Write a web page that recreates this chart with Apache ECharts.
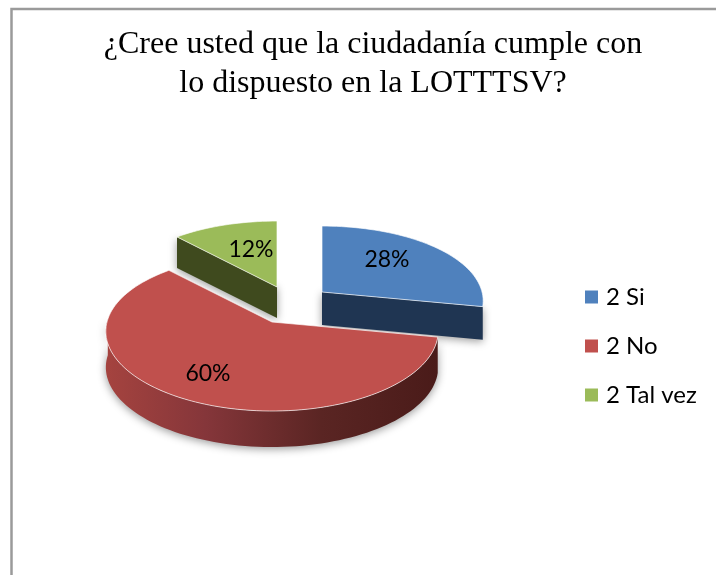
<!DOCTYPE html>
<html>
<head>
<meta charset="utf-8">
<title>LOTTTSV</title>
<script src="https://cdn.jsdelivr.net/npm/echarts@6/dist/echarts.min.js"></script>
<style>
    html, body { margin: 0; padding: 0; background: #fff; }
    #chart { width: 716px; height: 575px; }
</style>
</head>
<body>
<div id="chart"></div>
<script>
// ---- datos ----
const categories = ['2 Si', '2 No', '2 Tal vez'];
const values = [28, 60, 12];
const chartTitle = '¿Cree usted que la ciudadanía cumple con\nlo dispuesto en la LOTTTSV?';

// ---- colores ----
const topColors = ['#4f81bd', '#c0504d', '#9bbb59'];
const sideColors = ['#1f3552', '#4a1b19', '#3f4a1e'];

// ---- geometria del pastel (centro, radios, perspectiva) ----
const PIE = { cx: 272, cy: 322, a: 165, b: 78.5, persp: 0.12, tilt: 0.134, depth: 36 };
// separacion de cada porcion, escala y posicion de la etiqueta
const sliceLayout = [
    { dx: 50, dy: -30, scale: 0.97, depth: 33, labelX: 65, labelY: -32 },
    { dx: 0, dy: 0, scale: 1, depth: 36, labelX: -64, labelY: 52 },
    { dx: 5, dy: -35, scale: 0.97, depth: 31, labelX: -26, labelY: -37 },
];

function project(deg, lay) {
    const rad = deg * Math.PI / 180;
    const u = Math.sin(rad);
    const v = -Math.cos(rad);
    return [
        PIE.cx + lay.dx + lay.scale * PIE.a * u * (1 + PIE.persp * v),
        PIE.cy + lay.dy + lay.scale * PIE.b * v * (1 + PIE.tilt * v),
    ];
}

function arcPoints(from, to, lay) {
    const pts = [];
    const n = Math.max(2, Math.ceil((to - from) / 2));
    for (let i = 0; i <= n; i++) pts.push(project(from + (to - from) * i / n, lay));
    return pts;
}

function sliceRange(i) {
    const total = values.reduce((s, v) => s + v, 0);
    const before = values.slice(0, i).reduce((s, v) => s + v, 0);
    return [before / total * 360, (before + values[i]) / total * 360];
}

const shadow = { shadowBlur: 9, shadowColor: 'rgba(0,0,0,0.4)', shadowOffsetY: 2 };

function renderSlice(i, api) {
    const lay = sliceLayout[i];
    const [start, end] = sliceRange(i);
    const apex = [PIE.cx + lay.dx, PIE.cy + lay.dy];
    const children = [];
    const down = p => [p[0], p[1] + lay.depth];

    // borde exterior visible (mitad delantera)
    const rimFrom = Math.max(start, 90);
    const rimTo = Math.min(end, 272);
    if (rimTo > rimFrom && i === 1) {
        // la porcion roja da la vuelta por delante, de la derecha a la izquierda
        const rim = arcPoints(rimFrom, rimTo, lay);
        children.push({
            type: 'polygon',
            shape: { points: rim.concat(rim.slice().reverse().map(down)) },
            style: Object.assign({
                fill: new echarts.graphic.LinearGradient(0, 0, 1, 0, [
                    { offset: 0, color: '#a5433f' },
                    { offset: 0.3, color: '#85363a' },
                    { offset: 0.65, color: '#5a2523' },
                    { offset: 1, color: sideColors[i] },
                ]),
            }, shadow),
        });
    }
    // caras de corte que miran al frente
    const faces = [];
    if (start > 180 && start < 360) faces.push(project(start, lay));
    if (end > 0 && end < 180) faces.push(project(end, lay));
    faces.forEach(p => {
        children.push({
            type: 'polygon',
            shape: { points: [apex, p, down(p), down(apex)] },
            style: Object.assign({ fill: sideColors[i] }, shadow),
        });
    });
    // cara superior
    children.push({
        type: 'polygon',
        shape: { points: [apex].concat(arcPoints(start, end, lay)) },
        style: { fill: topColors[i], stroke: 'rgba(255,255,255,0.65)', lineWidth: 1 },
    });
    // etiqueta
    children.push({
        type: 'text',
        style: {
            x: apex[0] + lay.labelX,
            y: apex[1] + lay.labelY,
            text: api.value(0) + '%',
            align: 'center',
            verticalAlign: 'middle',
            fill: '#000',
            font: '23px Lato, sans-serif',
        },
    });
    return { type: 'group', children };
}

// rojo al final para que quede encima de las caras de las otras porciones
const drawOrder = [2, 0, 1];

const chart = echarts.init(document.getElementById('chart'), null, { renderer: 'canvas' });
chart.setOption({
    animation: false,
    backgroundColor: '#fff',
    title: {
        text: chartTitle,
        left: 368,
        top: 20,
        textAlign: 'center',
        textStyle: {
            fontFamily: '"Liberation Serif", serif',
            fontSize: 32,
            fontWeight: 'normal',
            color: '#000',
            lineHeight: 39,
        },
    },
    legend: {
        orient: 'vertical',
        left: 580,
        top: 280,
        icon: 'rect',
        itemWidth: 13,
        itemHeight: 13,
        itemGap: 25,
        data: categories,
        textStyle: { fontFamily: 'Lato, sans-serif', fontSize: 24, color: '#000', padding: [0, 0, 0, 3] },
    },
    graphic: [{
        type: 'rect',
        silent: true,
        z: -1,
        shape: { x: 11.5, y: 9, width: 760, height: 620 },
        style: { fill: 'none', stroke: '#9a9a9a', lineWidth: 2.5 },
    }],
    series: drawOrder.map(i => ({
        type: 'custom',
        name: categories[i],
        coordinateSystem: 'none',
        silent: true,
        itemStyle: { color: topColors[i] },
        data: [[values[i]]],
        renderItem: (params, api) => renderSlice(i, api),
    })),
});
</script>
</body>
</html>
